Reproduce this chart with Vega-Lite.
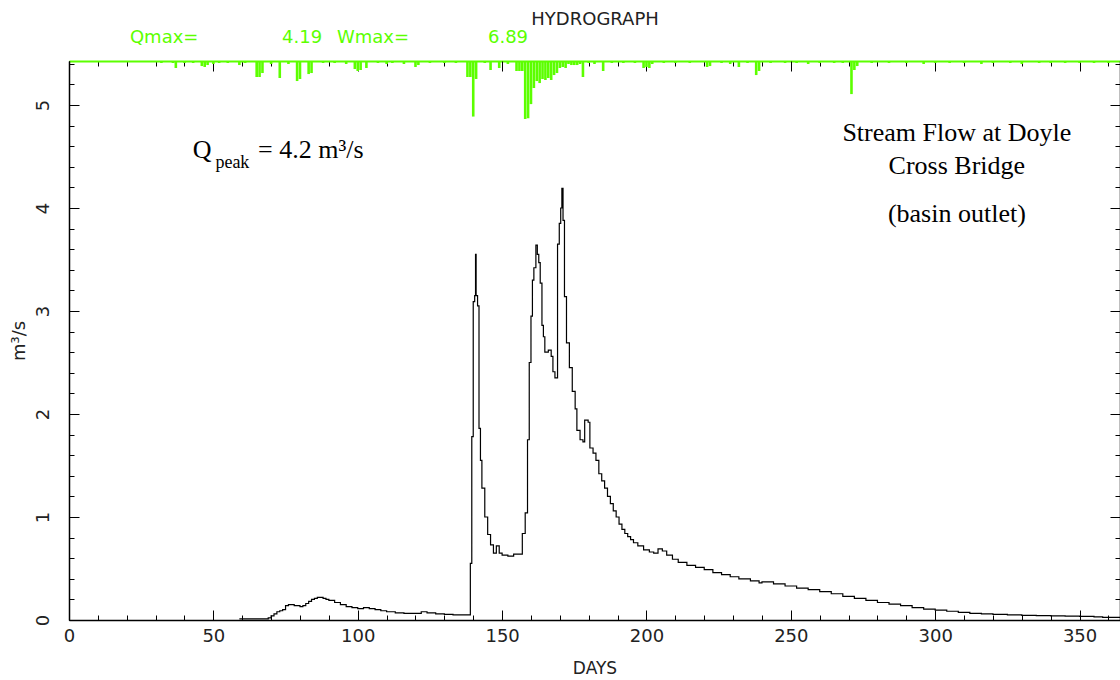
{
  "$schema": "https://vega.github.io/schema/vega-lite/v6.json",
  "width": 1051,
  "height": 559,
  "autosize": {"type": "none"},
  "padding": {"left": 69, "top": 61, "right": 0, "bottom": 60},
  "background": "#ffffff",
  "config": {"view": {"stroke": null}},
  "resolve": {"scale": {"y": "independent"}, "axis": {"x": "independent", "y": "independent"}},
  "layer": [
    {
      "data": {"values": [
        {"day": 5, "w": 0.12}, {"day": 12, "w": 0.12}, {"day": 20, "w": 0.12}, {"day": 28, "w": 0.12},
        {"day": 32, "w": 0.24}, {"day": 36, "w": 0.24}, {"day": 37, "w": 0.83}, {"day": 40, "w": 0.24},
        {"day": 43, "w": 0.24}, {"day": 46, "w": 0.6}, {"day": 47, "w": 0.71}, {"day": 48, "w": 0.48},
        {"day": 50, "w": 0.36}, {"day": 52, "w": 0.24}, {"day": 55, "w": 0.24}, {"day": 59, "w": 0.48},
        {"day": 61, "w": 0.24}, {"day": 65, "w": 1.9}, {"day": 66, "w": 1.9}, {"day": 67, "w": 1.43},
        {"day": 70, "w": 0.36}, {"day": 73, "w": 2.02}, {"day": 76, "w": 0.36}, {"day": 79, "w": 2.38},
        {"day": 80, "w": 2.14}, {"day": 83, "w": 1.55}, {"day": 84, "w": 1.43}, {"day": 88, "w": 0.24},
        {"day": 92, "w": 0.24}, {"day": 96, "w": 0.36}, {"day": 99, "w": 0.95}, {"day": 100, "w": 1.19},
        {"day": 101, "w": 1.07}, {"day": 103, "w": 0.83}, {"day": 107, "w": 0.24}, {"day": 110, "w": 0.36},
        {"day": 112, "w": 0.24}, {"day": 116, "w": 0.36}, {"day": 120, "w": 0.71}, {"day": 121, "w": 0.48},
        {"day": 125, "w": 0.24}, {"day": 130, "w": 0.24}, {"day": 134, "w": 0.24}, {"day": 138, "w": 1.9},
        {"day": 139, "w": 1.9}, {"day": 140, "w": 6.6}, {"day": 141, "w": 2.14}, {"day": 144, "w": 0.24},
        {"day": 146, "w": 1.07}, {"day": 149, "w": 0.83}, {"day": 152, "w": 0.36}, {"day": 155, "w": 1.19},
        {"day": 156, "w": 1.19}, {"day": 157, "w": 1.19}, {"day": 158, "w": 6.89}, {"day": 159, "w": 6.8},
        {"day": 160, "w": 5.12}, {"day": 161, "w": 3.21}, {"day": 162, "w": 2.38}, {"day": 163, "w": 2.62},
        {"day": 164, "w": 2.14}, {"day": 165, "w": 2.26}, {"day": 166, "w": 2.02}, {"day": 167, "w": 2.26},
        {"day": 168, "w": 1.67}, {"day": 169, "w": 1.43}, {"day": 170, "w": 0.83}, {"day": 171, "w": 0.71},
        {"day": 172, "w": 0.83}, {"day": 173, "w": 0.36}, {"day": 174, "w": 0.48}, {"day": 175, "w": 0.48},
        {"day": 176, "w": 0.48}, {"day": 177, "w": 0.36}, {"day": 178, "w": 1.9}, {"day": 180, "w": 0.24},
        {"day": 182, "w": 0.36}, {"day": 185, "w": 1.19}, {"day": 188, "w": 0.24}, {"day": 192, "w": 0.24},
        {"day": 196, "w": 0.24}, {"day": 199, "w": 0.83}, {"day": 200, "w": 0.71}, {"day": 201, "w": 0.83},
        {"day": 202, "w": 0.36}, {"day": 206, "w": 0.24}, {"day": 210, "w": 0.24}, {"day": 215, "w": 0.24},
        {"day": 221, "w": 0.71}, {"day": 222, "w": 0.6}, {"day": 226, "w": 0.24}, {"day": 229, "w": 0.36},
        {"day": 232, "w": 0.71}, {"day": 235, "w": 0.24}, {"day": 238, "w": 1.67}, {"day": 239, "w": 1.19},
        {"day": 243, "w": 0.24}, {"day": 248, "w": 0.24}, {"day": 252, "w": 0.24}, {"day": 256, "w": 0.36},
        {"day": 260, "w": 0.24}, {"day": 265, "w": 0.24}, {"day": 268, "w": 0.24}, {"day": 271, "w": 3.93},
        {"day": 272, "w": 1.07}, {"day": 273, "w": 0.6}, {"day": 278, "w": 0.24}, {"day": 284, "w": 0.24},
        {"day": 290, "w": 0.24}, {"day": 296, "w": 0.36}, {"day": 300, "w": 0.24}, {"day": 305, "w": 0.24},
        {"day": 310, "w": 0.24}, {"day": 316, "w": 0.36}, {"day": 320, "w": 0.24}, {"day": 326, "w": 0.24},
        {"day": 330, "w": 0.36}, {"day": 336, "w": 0.24}, {"day": 340, "w": 0.24}, {"day": 345, "w": 0.24},
        {"day": 350, "w": 0.24}, {"day": 355, "w": 0.24}, {"day": 360, "w": 0.24}
      ]},
      "mark": {"type": "rule", "color": "#5cff00", "strokeWidth": 2.6},
      "encoding": {
        "x": {"field": "day", "type": "quantitative", "scale": {"domain": [0, 364], "nice": false, "zero": false},
          "axis": {"orient": "top", "values": [0,10,20,30,40,50,60,70,80,90,100,110,120,130,140,150,160,170,180,190,200,210,220,230,240,250,260,270,280,290,300,310,320,330,340,350,360],
            "tickSize": -5, "tickColor": "#000000", "labels": false, "domain": true, "domainColor": "#5cff00", "domainWidth": 2, "title": null, "grid": false}},
        "y": {"field": "w", "type": "quantitative", "scale": {"domain": [0, 66.4], "reverse": true, "nice": false}, "axis": null},
        "y2": {"datum": 0}
      }
    },
    {
      "data": {"values": [
        {"day": 59, "q": 0.01}, {"day": 65, "q": 0.01}, {"day": 69, "q": 0.02}, {"day": 70, "q": 0.04},
        {"day": 71, "q": 0.06}, {"day": 72, "q": 0.08}, {"day": 73, "q": 0.09}, {"day": 74, "q": 0.1},
        {"day": 75, "q": 0.14}, {"day": 76, "q": 0.15}, {"day": 78, "q": 0.14}, {"day": 80, "q": 0.13},
        {"day": 81, "q": 0.14}, {"day": 82, "q": 0.16}, {"day": 83, "q": 0.18}, {"day": 84, "q": 0.2},
        {"day": 85, "q": 0.21}, {"day": 86, "q": 0.22}, {"day": 87, "q": 0.22}, {"day": 88, "q": 0.21},
        {"day": 89, "q": 0.2}, {"day": 90, "q": 0.19}, {"day": 92, "q": 0.17}, {"day": 94, "q": 0.15},
        {"day": 96, "q": 0.13}, {"day": 98, "q": 0.12}, {"day": 100, "q": 0.11}, {"day": 102, "q": 0.12},
        {"day": 104, "q": 0.11}, {"day": 106, "q": 0.1}, {"day": 108, "q": 0.09}, {"day": 110, "q": 0.08},
        {"day": 113, "q": 0.07}, {"day": 116, "q": 0.065}, {"day": 120, "q": 0.065}, {"day": 122, "q": 0.08},
        {"day": 124, "q": 0.07}, {"day": 127, "q": 0.06}, {"day": 130, "q": 0.055}, {"day": 133, "q": 0.05},
        {"day": 138.5, "q": 0.05}, {"day": 139, "q": 0.55}, {"day": 139.5, "q": 1.78}, {"day": 140, "q": 3.09},
        {"day": 140.5, "q": 3.15}, {"day": 140.8, "q": 3.55}, {"day": 141, "q": 3.15}, {"day": 141.5, "q": 3.05},
        {"day": 142, "q": 1.86}, {"day": 142.5, "q": 1.55}, {"day": 143, "q": 1.28}, {"day": 144, "q": 1.0},
        {"day": 145, "q": 0.83}, {"day": 146, "q": 0.73}, {"day": 147, "q": 0.65}, {"day": 148, "q": 0.72},
        {"day": 149, "q": 0.65}, {"day": 150, "q": 0.63}, {"day": 152, "q": 0.62}, {"day": 154, "q": 0.64},
        {"day": 156, "q": 0.64}, {"day": 157, "q": 0.84}, {"day": 158, "q": 1.04}, {"day": 158.8, "q": 1.75},
        {"day": 159.4, "q": 2.5}, {"day": 160, "q": 2.95}, {"day": 160.5, "q": 3.3}, {"day": 161, "q": 3.42},
        {"day": 161.7, "q": 3.64}, {"day": 162.2, "q": 3.55}, {"day": 162.7, "q": 3.47}, {"day": 163.2, "q": 3.27},
        {"day": 163.8, "q": 2.86}, {"day": 164.3, "q": 2.75}, {"day": 164.8, "q": 2.6}, {"day": 166, "q": 2.62},
        {"day": 167, "q": 2.56}, {"day": 167.6, "q": 2.41}, {"day": 168.3, "q": 2.35}, {"day": 169.2, "q": 3.65},
        {"day": 169.8, "q": 3.85}, {"day": 170.3, "q": 4.0}, {"day": 170.7, "q": 4.19}, {"day": 171.1, "q": 3.88},
        {"day": 171.6, "q": 3.14}, {"day": 172.3, "q": 2.69}, {"day": 173.3, "q": 2.45}, {"day": 174.3, "q": 2.22},
        {"day": 175.3, "q": 2.05}, {"day": 175.9, "q": 1.84}, {"day": 177, "q": 1.75}, {"day": 178, "q": 1.73},
        {"day": 178.6, "q": 1.94}, {"day": 179.8, "q": 1.92}, {"day": 180.4, "q": 1.67}, {"day": 181.5, "q": 1.62},
        {"day": 182.5, "q": 1.55}, {"day": 183.5, "q": 1.42}, {"day": 184.5, "q": 1.35}, {"day": 185.5, "q": 1.28},
        {"day": 186.5, "q": 1.2}, {"day": 187.5, "q": 1.13}, {"day": 188.5, "q": 1.06}, {"day": 189.5, "q": 1.0},
        {"day": 190.5, "q": 0.93}, {"day": 191.5, "q": 0.88}, {"day": 192.5, "q": 0.84}, {"day": 193.5, "q": 0.81},
        {"day": 194.5, "q": 0.78}, {"day": 195.5, "q": 0.75}, {"day": 197, "q": 0.72}, {"day": 199, "q": 0.68},
        {"day": 201, "q": 0.66}, {"day": 202.5, "q": 0.65}, {"day": 204, "q": 0.69}, {"day": 205.5, "q": 0.67},
        {"day": 207, "q": 0.63}, {"day": 209, "q": 0.59}, {"day": 211, "q": 0.56}, {"day": 214, "q": 0.53},
        {"day": 217, "q": 0.51}, {"day": 220, "q": 0.49}, {"day": 223, "q": 0.46}, {"day": 226, "q": 0.44},
        {"day": 229, "q": 0.42}, {"day": 232, "q": 0.4}, {"day": 236, "q": 0.38}, {"day": 239, "q": 0.36},
        {"day": 240, "q": 0.37}, {"day": 244, "q": 0.35}, {"day": 248, "q": 0.33}, {"day": 252, "q": 0.31},
        {"day": 256, "q": 0.295}, {"day": 260, "q": 0.275}, {"day": 264, "q": 0.255}, {"day": 268, "q": 0.23},
        {"day": 272, "q": 0.21}, {"day": 276, "q": 0.19}, {"day": 280, "q": 0.17}, {"day": 284, "q": 0.155},
        {"day": 288, "q": 0.14}, {"day": 292, "q": 0.12}, {"day": 296, "q": 0.105}, {"day": 300, "q": 0.095},
        {"day": 304, "q": 0.085}, {"day": 308, "q": 0.075}, {"day": 312, "q": 0.065}, {"day": 316, "q": 0.06},
        {"day": 320, "q": 0.055}, {"day": 325, "q": 0.05}, {"day": 330, "q": 0.045}, {"day": 335, "q": 0.042},
        {"day": 340, "q": 0.04}, {"day": 345, "q": 0.037}, {"day": 350, "q": 0.035}, {"day": 355, "q": 0.03},
        {"day": 358, "q": 0.025}, {"day": 364, "q": 0.02}
      ]},
      "mark": {"type": "line", "interpolate": "step-after", "color": "#000000", "strokeWidth": 1.2, "clip": true},
      "encoding": {
        "x": {"field": "day", "type": "quantitative", "scale": {"domain": [0, 364], "nice": false, "zero": false},
          "axis": {"orient": "bottom", "values": [0,50,100,150,200,250,300,350], "ticks": false, "labels": true, "labelFlush": false, "labelOverlap": false,
            "labelFont": "DejaVu Sans", "labelFontSize": 18, "labelColor": "#222222", "labelPadding": 7,
            "domain": true, "domainColor": "#000000", "domainWidth": 1.5, "grid": false,
            "title": "DAYS", "titleFont": "DejaVu Sans", "titleFontSize": 17, "titleFontWeight": "normal", "titleColor": "#222222", "titlePadding": 15}},
        "y": {"field": "q", "type": "quantitative", "scale": {"domain": [0, 5.427], "nice": false},
          "axis": {"orient": "left", "values": [0,1,2,3,4,5], "ticks": false, "labels": true, "labelFlush": false, "labelOverlap": false,
            "labelAngle": -90, "labelAlign": "center", "labelBaseline": "bottom", "labelPadding": 17,
            "labelFont": "DejaVu Sans", "labelFontSize": 18, "labelColor": "#222222",
            "domain": true, "domainColor": "#000000", "domainWidth": 1.5, "grid": false,
            "title": "m³/s", "titleFont": "DejaVu Sans", "titleFontSize": 18, "titleFontWeight": "normal", "titleColor": "#222222", "titlePadding": 6}}
      }
    },
    {
      "data": {"values": [
        {"day": 307.5, "q": 4.728, "t": "Stream Flow at Doyle"},
        {"day": 307.5, "q": 4.408, "t": "Cross Bridge"},
        {"day": 307.5, "q": 3.942, "t": "(basin outlet)"}
      ]},
      "mark": {"type": "text", "font": "Liberation Serif", "fontSize": 26, "color": "#000000", "align": "center", "baseline": "middle"},
      "encoding": {
        "x": {"field": "day", "type": "quantitative", "scale": {"domain": [0, 364], "nice": false, "zero": false},
          "axis": {"orient": "bottom", "values": [0,10,20,30,40,50,60,70,80,90,100,110,120,130,140,150,160,170,180,190,200,210,220,230,240,250,260,270,280,290,300,310,320,330,340,350,360],
            "tickSize": -5, "tickColor": "#000000", "labels": false, "domain": false, "title": null, "grid": false}},
        "y": {"field": "q", "type": "quantitative", "scale": {"domain": [0, 5.427], "nice": false},
          "axis": {"orient": "left", "values": [0,0.2,0.4,0.6,0.8,1,1.2,1.4,1.6,1.8,2,2.2,2.4,2.6,2.8,3,3.2,3.4,3.6,3.8,4,4.2,4.4,4.6,4.8,5,5.2,5.4],
            "tickSize": -5, "tickColor": "#000000", "labels": false, "domain": false, "title": null, "grid": false}},
        "text": {"field": "t", "type": "nominal"}
      }
    },
    {
      "data": {"values": [
        {"day": 42.9, "q": 4.563, "t": "Q"},
        {"day": 65.5, "q": 4.563, "t": "= 4.2 m³/s"}
      ]},
      "mark": {"type": "text", "font": "Liberation Serif", "fontSize": 26, "color": "#000000", "align": "left", "baseline": "middle"},
      "encoding": {
        "x": {"field": "day", "type": "quantitative", "scale": {"domain": [0, 364], "nice": false, "zero": false},
          "axis": {"orient": "bottom", "values": [0,50,100,150,200,250,300,350], "tickSize": -10, "tickColor": "#000000", "labels": false, "domain": false, "title": null, "grid": false}},
        "y": {"field": "q", "type": "quantitative", "scale": {"domain": [0, 5.427], "nice": false},
          "axis": {"orient": "left", "values": [0,1,2,3,4,5], "tickSize": -10, "tickColor": "#000000", "labels": false, "domain": false, "title": null, "grid": false}},
        "text": {"field": "t", "type": "nominal"}
      }
    },
    {
      "data": {"values": [
        {"day": 50.7, "q": 4.44, "t": "peak"}
      ]},
      "mark": {"type": "text", "font": "Liberation Serif", "fontSize": 18, "color": "#000000", "align": "left", "baseline": "middle"},
      "encoding": {
        "x": {"field": "day", "type": "quantitative", "scale": {"domain": [0, 364], "nice": false, "zero": false},
          "axis": {"orient": "top", "values": [0,50,100,150,200,250,300,350], "tickSize": -10, "tickColor": "#000000", "labels": false, "domain": false, "title": null, "grid": false}},
        "y": {"field": "q", "type": "quantitative", "scale": {"domain": [0, 5.427], "nice": false},
          "axis": {"orient": "right", "values": [0,0.2,0.4,0.6,0.8,1,1.2,1.4,1.6,1.8,2,2.2,2.4,2.6,2.8,3,3.2,3.4,3.6,3.8,4,4.2,4.4,4.6,4.8,5,5.2,5.4],
            "tickSize": -5, "tickColor": "#000000", "labels": false, "domain": true, "domainColor": "#000000", "domainWidth": 1.5, "title": null, "grid": false}},
        "text": {"field": "t", "type": "nominal"}
      }
    },
    {
      "data": {"values": [
        {"day": 21.1, "q": 5.65, "t": "Qmax="},
        {"day": 73.8, "q": 5.65, "t": "4.19"},
        {"day": 92.8, "q": 5.65, "t": "Wmax="},
        {"day": 145.1, "q": 5.65, "t": "6.89"}
      ]},
      "mark": {"type": "text", "font": "DejaVu Sans", "fontSize": 18, "color": "#5cff00", "align": "left", "baseline": "middle"},
      "encoding": {
        "x": {"field": "day", "type": "quantitative", "scale": {"domain": [0, 364], "nice": false, "zero": false}, "axis": null},
        "y": {"field": "q", "type": "quantitative", "scale": {"domain": [0, 5.427], "nice": false},
          "axis": {"orient": "right", "values": [0,1,2,3,4,5], "tickSize": -10, "tickColor": "#000000", "labels": false, "domain": false, "title": null, "grid": false}},
        "text": {"field": "t", "type": "nominal"}
      }
    },
    {
      "data": {"values": [
        {"day": 182.2, "q": 5.825, "t": "HYDROGRAPH"}
      ]},
      "mark": {"type": "text", "font": "DejaVu Sans", "fontSize": 18, "color": "#222222", "align": "center", "baseline": "middle"},
      "encoding": {
        "x": {"field": "day", "type": "quantitative", "scale": {"domain": [0, 364], "nice": false, "zero": false}, "axis": null},
        "y": {"field": "q", "type": "quantitative", "scale": {"domain": [0, 5.427], "nice": false}, "axis": null},
        "text": {"field": "t", "type": "nominal"}
      }
    }
  ]
}
